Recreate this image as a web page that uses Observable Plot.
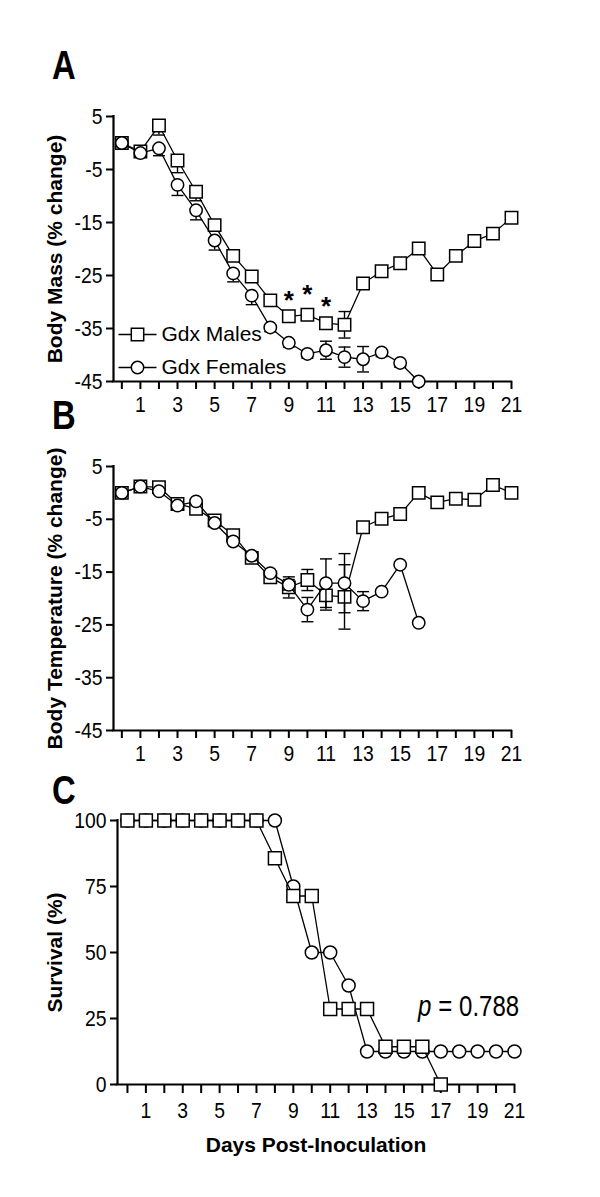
<!DOCTYPE html>
<html><head><meta charset="utf-8">
<script src="https://cdn.jsdelivr.net/npm/d3@7"></script>
<script src="https://cdn.jsdelivr.net/npm/@observablehq/plot@0.6"></script>
<style>
body{margin:0;background:#fff;}
#root{position:relative;width:600px;height:1197px;overflow:hidden;background:#fff;}
.panel{position:absolute;left:0;}
.letter{position:absolute;font-family:"Liberation Sans",Arial,sans-serif;font-weight:bold;font-size:40px;line-height:40px;color:#000;transform:scaleX(0.82);transform-origin:left top;}
</style></head><body><div id="root"></div>
<script>
// ---- data ----
const days = d3.range(0, 22);
const oddDayLabels = [1,3,5,7,9,11,13,15,17,19,21];
const femaleDays = d3.range(0, 17);
const survMaleDays = d3.range(0, 18);

const massTicks = [5, -5, -15, -25, -35, -45];
const massMales      = [0, -1.6, 3.3, -3.3, -9.2, -15.5, -21.3, -25.2, -29.7, -32.7, -32.4, -34.0, -34.3, -26.5, -24.2, -22.7, -19.9, -24.8, -21.3, -18.5, -17.1, -14.1];
const massMalesErrLo = [0, 0, 1.8, 2.3, 1.7, 0.8, 0.8, 0.8, 0.8, 0.8, 0.8, 0.8, 2.5, 0, 0, 0, 0, 0, 0, 0, 0, 0];
const massMalesErrHi = [0, 0, 0, 0, 0, 0, 0, 0, 0, 0, 0, 0, 2.5, 0, 0, 0, 0, 0, 0, 0, 0, 0];
const massFemales      = [0, -1.9, -1.0, -7.9, -12.7, -18.4, -24.6, -28.8, -34.8, -37.7, -39.8, -39.1, -40.4, -40.8, -39.5, -41.5, -45.0];
const massFemalesErrLo = [0, 0, 1.4, 2.0, 1.8, 1.8, 1.6, 1.7, 0.8, 0.8, 0.8, 1.7, 1.9, 2.4, 0.8, 0.8, 0];
const massFemalesErrHi = [0, 0, 0, 0, 0, 0, 0, 0, 0, 0, 0, 1.7, 1.9, 2.4, 0, 0, 0];
const sigDays = [9, 10, 11];
const sigY = [-28.2, -27.2, -29.3];

const tempTicks = [5, -5, -15, -25, -35, -45];
const tempMales    = [0, 1.2, 1.1, -2.1, -3.0, -5.2, -8.0, -12.3, -16.0, -17.9, -16.5, -19.4, -19.7, -6.5, -4.9, -4.0, 0.0, -1.8, -1.1, -1.3, 1.5, 0.0];
const tempMalesErr = [0, 0, 0, 0, 0, 0, 0, 0, 0.8, 2.0, 2.0, 2.8, 6.1, 0, 0, 0, 0, 0, 0, 0, 0, 0];
const tempFemales    = [0, 1.2, 0.3, -2.4, -1.6, -5.7, -9.2, -11.9, -15.2, -17.4, -22.1, -17.1, -17.1, -20.5, -18.7, -13.6, -24.6];
const tempFemalesErr = [0, 0, 0, 0, 0, 0, 0, 0, 0, 1.0, 2.3, 4.6, 5.6, 1.8, 0, 0, 0];

const survTicks = [0, 25, 50, 75, 100];
const survMales   = [100, 100, 100, 100, 100, 100, 100, 100, 85.7, 71.4, 71.4, 28.6, 28.6, 28.6, 14.3, 14.3, 14.3, 0];
const survFemales = [100, 100, 100, 100, 100, 100, 100, 100, 100, 75, 50, 50, 37.5, 12.5, 12.5, 12.5, 12.5, 12.5, 12.5, 12.5, 12.5, 12.5];
const pValue = {x: 21.25, y: 29.5, sym: "p", rest: "= 0.788"};

const legendLabels = ["Gdx Males", "Gdx Females"];

// ---- styling ----
const FONT = '"Liberation Sans",Arial,sans-serif';
const TICK_NARROW = 0.88;
const P_NARROW = 0.8;
const capSym = {draw(ctx){ ctx.moveTo(-6, 0); ctx.lineTo(6, 0); }};
const legLine = {draw(ctx){ ctx.moveTo(-19, 0); ctx.lineTo(19, 0); }};

function series(xs, ys, lo, hi, symbol, r) {
  const data = xs.map((x, i) => ({x, y: ys[i], lo: lo ? lo[i] : 0, hi: hi ? hi[i] : 0}));
  const eb = data.filter(d => d.lo > 0 || d.hi > 0);
  const ebLo = data.filter(d => d.lo > 0);
  const ebHi = data.filter(d => d.hi > 0);
  return [
    Plot.ruleX(eb, {x: "x", y1: d => d.y - d.lo, y2: d => d.y + d.hi, stroke: "black", strokeWidth: 1.4}),
    Plot.dot(ebLo, {x: "x", y: d => d.y - d.lo, symbol: capSym, fill: "none", stroke: "black", strokeWidth: 1.4}),
    Plot.dot(ebHi, {x: "x", y: d => d.y + d.hi, symbol: capSym, fill: "none", stroke: "black", strokeWidth: 1.4}),
    Plot.line(data, {x: "x", y: "y", stroke: "black", strokeWidth: 1.3}),
    Plot.dot(data, {x: "x", y: "y", symbol, r, fill: "white", stroke: "black", strokeWidth: 1.5})
  ];
}

function panel({height, marginLeft, marginRight, marginBottom, xDomain, yDomain, yTicks, tickSize, tickPadding, title, titleDx, marks}) {
  return Plot.plot({
    width: 600, height, marginTop: 26, marginBottom, marginLeft, marginRight,
    x: {domain: xDomain}, y: {domain: yDomain},
    style: {fontFamily: FONT, fontSize: "21px", color: "black", background: "transparent", overflow: "visible"},
    marks: [
      Plot.axisX({ticks: days, tickSize, tickPadding, tickFormat: d => oddDayLabels.includes(d) ? String(d) : "", strokeWidth: 2, fontSize: 22, label: null}),
      Plot.axisY({ticks: yTicks, tickSize: 7, tickPadding: 4, tickFormat: d => String(d), strokeWidth: 2, fontSize: 22, label: null}),
      Plot.ruleY([yDomain[0]], {stroke: "black", strokeWidth: 2.2, strokeLinecap: "square"}),
      Plot.ruleX([xDomain[0]], {stroke: "black", strokeWidth: 2.2, strokeLinecap: "square"}),
      Plot.text([title], {frameAnchor: "left", textAnchor: "middle", lineAnchor: "middle", rotate: -90, dx: titleDx, fontWeight: "bold", fontSize: 21}),
      ...marks
    ]
  });
}

const root = document.getElementById("root");
function place(el, top) { const d = document.createElement("div"); d.className = "panel"; d.style.top = top + "px"; d.appendChild(el); root.appendChild(d); }
function letter(t, left, top) { const d = document.createElement("div"); d.className = "letter"; d.textContent = t; d.style.left = left + "px"; d.style.top = top + "px"; root.appendChild(d); }

// Panel A
const sq = "square", ci = "circle";
const A = panel({
  height: 336, marginLeft: 113, marginRight: 89, marginBottom: 45,
  xDomain: [-0.45, 21], yDomain: [-45, 5], yTicks: massTicks, tickSize: 8, tickPadding: 7,
  title: "Body Mass (% change)", titleDx: -58,
  marks: [
    ...series(days, massMales, massMalesErrLo, massMalesErrHi, sq, 7),
    ...series(femaleDays, massFemales, massFemalesErrLo, massFemalesErrHi, ci, 6.2),
    Plot.text(sigDays, {x: d => d, y: (d, i) => sigY[i], text: () => "*", fontWeight: "bold", fontSize: 26, dy: 8}),
    Plot.dot([0], {frameAnchor: "bottom-left", dx: 24, dy: -47, symbol: legLine, fill: "none", stroke: "black", strokeWidth: 1.3}),
    Plot.dot([0], {frameAnchor: "bottom-left", dx: 24, dy: -47, symbol: sq, r: 7, fill: "white", stroke: "black", strokeWidth: 1.5}),
    Plot.text([legendLabels[0]], {frameAnchor: "bottom-left", dx: 48, dy: -47, textAnchor: "start", lineAnchor: "middle", fontSize: 21}),
    Plot.dot([0], {frameAnchor: "bottom-left", dx: 24, dy: -14, symbol: legLine, fill: "none", stroke: "black", strokeWidth: 1.3}),
    Plot.dot([0], {frameAnchor: "bottom-left", dx: 24, dy: -14, symbol: ci, r: 6.2, fill: "white", stroke: "black", strokeWidth: 1.5}),
    Plot.text([legendLabels[1]], {frameAnchor: "bottom-left", dx: 48, dy: -14, textAnchor: "start", lineAnchor: "middle", fontSize: 21})
  ]
});
place(A, 90);

// Panel B
const B = panel({
  height: 335, marginLeft: 113, marginRight: 89, marginBottom: 45,
  xDomain: [-0.45, 21], yDomain: [-45, 5], yTicks: tempTicks, tickSize: 8, tickPadding: 7,
  title: "Body Temperature (% change)", titleDx: -58,
  marks: [
    ...series(days, tempMales, tempMalesErr, tempMalesErr, sq, 7),
    ...series(femaleDays, tempFemales, tempFemalesErr, tempFemalesErr, ci, 6.2)
  ]
});
place(B, 440);

// Panel C
const C = panel({
  height: 370, marginLeft: 117, marginRight: 86, marginBottom: 80,
  xDomain: [-0.54, 21], yDomain: [0, 100], yTicks: survTicks, tickSize: 9, tickPadding: 9,
  title: "Survival (%)", titleDx: -62,
  marks: [
    ...series(days, survFemales, null, null, ci, 6.5),
    ...series(survMaleDays, survMales, null, null, sq, 7.3),
    Plot.text([pValue], {x: "x", y: "y", text: "rest", textAnchor: "end", lineAnchor: "middle", fontSize: 30, className: "prest"}),
    Plot.text([pValue], {x: "x", y: "y", text: "sym", textAnchor: "end", lineAnchor: "middle", fontSize: 30, fontStyle: "italic", className: "psym"}),
    Plot.text(["Days Post-Inoculation"], {frameAnchor: "bottom", lineAnchor: "middle", dy: 61, fontWeight: "bold", fontSize: 21})
  ]
});
place(C, 794);

// narrow (Arial Narrow-like) tick labels and p value
function narrow(el, k) {
  if (!el.textContent) return 0;
  const len = el.getComputedTextLength() * k;
  el.setAttribute("textLength", len.toFixed(2));
  el.setAttribute("lengthAdjust", "spacingAndGlyphs");
  return len;
}
[A, B, C].forEach(svg => {
  d3.select(svg).selectAll('g[aria-label="x-axis tick label"] text, g[aria-label="y-axis tick label"] text').each(function(){ narrow(this, TICK_NARROW); });
});
let restLen = 0;
d3.select(C).selectAll("g.prest text").each(function(){ restLen = narrow(this, P_NARROW); });
d3.select(C).selectAll("g.psym text").each(function(){ narrow(this, P_NARROW); this.setAttribute("dx", (-(restLen + 7)).toFixed(1)); });

letter("A", 52, 45);
letter("B", 52, 395);
letter("C", 52, 770);
</script></body></html>
